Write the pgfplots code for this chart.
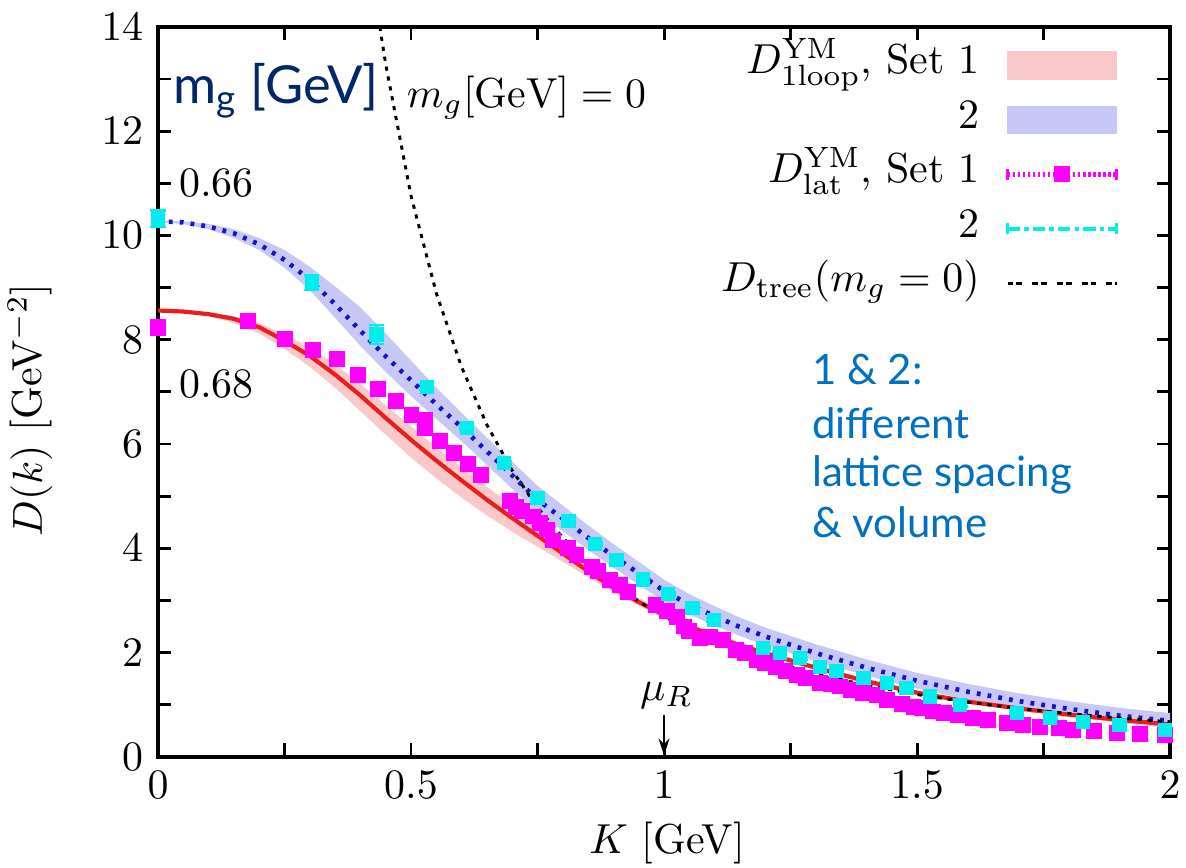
\documentclass[border=0pt]{standalone}
\usepackage{fontspec}
\usepackage{pgfplots}
\usepackage{pgfplotstable}
\pgfplotsset{compat=1.18}
\usepgfplotslibrary{fillbetween}
\usetikzlibrary{arrows.meta,calc}
\newfontfamily\gill{Lato}
\definecolor{bandA}{RGB}{250,200,200}
\definecolor{bandB}{RGB}{200,200,246}
\definecolor{lineA}{RGB}{235,30,30}
\definecolor{lineB}{RGB}{20,20,205}
\definecolor{latA}{RGB}{255,0,255}
\definecolor{latB}{RGB}{0,238,238}
\definecolor{navy}{RGB}{0,40,105}
\definecolor{txtblue}{RGB}{0,112,192}

% one-loop, set 1: curve and band
\pgfplotstableread{
K    D    up   lo
0.00 8.56 8.57 8.55
0.05 8.54 8.56 8.52
0.10 8.49 8.52 8.45
0.15 8.40 8.45 8.32
0.20 8.24 8.32 8.12
0.25 7.98 8.10 7.82
0.30 7.69 7.85 7.48
0.35 7.33 7.52 7.08
0.40 6.93 7.15 6.63
0.45 6.50 6.74 6.18
0.50 6.08 6.34 5.74
0.55 5.68 5.94 5.34
0.60 5.30 5.56 4.97
0.65 4.93 5.18 4.63
0.70 4.58 4.82 4.32
0.75 4.24 4.45 4.03
0.80 3.90 4.07 3.74
0.85 3.56 3.69 3.45
0.90 3.24 3.34 3.15
0.95 2.97 3.05 2.90
1.00 2.72 2.78 2.66
1.05 2.50 2.55 2.45
1.10 2.31 2.36 2.26
1.15 2.14 2.18 2.10
1.20 1.99 2.03 1.95
1.30 1.71 1.75 1.67
1.40 1.45 1.49 1.41
1.50 1.23 1.27 1.19
1.60 1.06 1.10 1.02
1.70 0.93 0.97 0.89
1.80 0.81 0.85 0.77
1.90 0.71 0.75 0.67
2.00 0.62 0.66 0.58
}\oneA

% one-loop, set 2: curve and band
\pgfplotstableread{
K    D     up    lo
0.00 10.27 10.29 10.25
0.05 10.25 10.27 10.22
0.10 10.17 10.22 10.12
0.15 10.04 10.12 9.95
0.20 9.83  9.95  9.72
0.25 9.53  9.72  9.38
0.30 9.15  9.40  8.95
0.35 8.68  9.02  8.42
0.40 8.17  8.62  7.88
0.45 7.68  8.12  7.38
0.50 7.22  7.60  6.92
0.55 6.76  7.08  6.48
0.60 6.32  6.60  6.05
0.65 5.86  6.12  5.60
0.70 5.40  5.66  5.14
0.75 4.93  5.20  4.68
0.80 4.57  4.82  4.33
0.85 4.20  4.44  3.97
0.90 3.85  4.08  3.63
0.95 3.52  3.74  3.30
1.00 3.18  3.40  2.98
1.05 2.92  3.12  2.73
1.10 2.70  2.89  2.52
1.15 2.49  2.67  2.32
1.20 2.31  2.48  2.14
1.30 1.99  2.16  1.83
1.40 1.71  1.87  1.56
1.50 1.46  1.61  1.31
1.60 1.25  1.40  1.10
1.70 1.07  1.22  0.93
1.80 0.92  1.07  0.78
1.90 0.79  0.94  0.65
2.00 0.69  0.84  0.55
}\oneB

% lattice, set 1
\pgfplotstableread{
K     D    e
0.000 8.23 0.14
0.177 8.35 0.06
0.251 8.02 0.05
0.307 7.81 0.03
0.354 7.63 0.05
0.396 7.32 0.03
0.435 7.06 0.03
0.470 6.82 0.03
0.501 6.55 0.04
0.527 6.47 0.03
0.528 6.30 0.03
0.557 6.05 0.03
0.585 5.83 0.03
0.613 5.61 0.03
0.639 5.41 0.03
0.696 4.90 0.03
0.708 4.80 0.03
0.720 4.71 0.03
0.741 4.61 0.03
0.755 4.49 0.03
0.768 4.36 0.03
0.781 4.15 0.03
0.811 4.00 0.03
0.827 3.88 0.03
0.857 3.65 0.03
0.870 3.56 0.03
0.893 3.40 0.03
0.913 3.30 0.03
0.929 3.16 0.03
0.985 2.92 0.03
1.005 2.79 0.03
1.025 2.69 0.03
1.040 2.50 0.03
1.050 2.42 0.03
1.071 2.27 0.03
1.090 2.30 0.03
1.117 2.24 0.03
1.143 2.05 0.03
1.160 2.00 0.03
1.183 1.86 0.03
1.200 1.80 0.03
1.222 1.73 0.03
1.240 1.65 0.03
1.262 1.57 0.03
1.280 1.52 0.03
1.308 1.41 0.03
1.330 1.40 0.03
1.348 1.35 0.03
1.370 1.28 0.03
1.394 1.22 0.03
1.420 1.18 0.03
1.440 1.09 0.03
1.470 1.02 0.03
1.493 0.96 0.03
1.510 0.94 0.03
1.532 0.87 0.03
1.553 0.84 0.03
1.580 0.80 0.03
1.611 0.75 0.03
1.640 0.71 0.03
1.678 0.65 0.03
1.710 0.62 0.03
1.743 0.58 0.03
1.780 0.55 0.03
1.809 0.52 0.03
1.850 0.50 0.03
1.895 0.46 0.03
1.940 0.44 0.03
1.990 0.42 0.03
}\latAdat

% lattice, set 2
\pgfplotstableread{
K     D     e
0.000 10.32 0.16
0.304 9.09  0.14
0.432 8.10  0.18
0.531 7.09  0.05
0.610 6.31  0.03
0.684 5.64  0.03
0.750 4.96  0.03
0.811 4.52  0.03
0.864 4.08  0.03
0.906 3.77  0.03
0.959 3.40  0.03
1.008 3.12  0.03
1.056 2.86  0.03
1.098 2.63  0.03
1.196 2.09  0.03
1.229 1.99  0.03
1.269 1.89  0.03
1.308 1.73  0.03
1.341 1.64  0.03
1.394 1.51  0.03
1.440 1.41  0.03
1.479 1.32  0.03
1.526 1.16  0.03
1.585 1.00  0.03
1.697 0.84  0.03
1.763 0.75  0.03
1.828 0.67  0.03
1.900 0.61  0.03
1.990 0.52  0.03
}\latBdat

% tree level, m_g = 0
\pgfplotstableread{
K      D
0.4383 14.00
0.45   13.28
0.50   10.76
0.55   8.893
0.60   7.472
0.65   6.367
0.70   5.490
0.75   4.782
0.80   4.203
0.85   3.723
0.90   3.321
0.95   2.981
1.00   2.690
1.10   2.223
1.20   1.868
1.30   1.592
1.40   1.372
1.50   1.196
1.60   1.051
1.70   0.931
1.80   0.830
1.90   0.745
2.00   0.6725
}\tree

\begin{document}
\begin{tikzpicture}
\begin{axis}[
    name=ax,
    scale only axis,
    width=241.5pt, height=174.2pt,
    xmin=0, xmax=2, ymin=0, ymax=14,
    xtick={0,0.5,...,2}, ytick={0,2,...,14},
    minor x tick num=1, minor y tick num=1,
    major tick length=3.2pt, minor tick length=3.2pt,
    every tick/.style={black, line width=0.7pt},
    axis line style={line width=0.9pt},
    clip=false,
    xlabel={$K$ [GeV]},
    ylabel={$D(k)$ [GeV$^{-2}$]},
    xlabel style={at={(axis description cs:0.503,-0.118)}, anchor=center},
    ylabel style={at={(axis description cs:-0.1265,0.475)}, anchor=center},
    legend cell align=right,
    legend plot pos=right,
    legend style={draw=none, fill=none, at={(rel axis cs:0.9506,0.98)},
      anchor=north east, inner sep=0pt, row sep=2pt, column sep=6pt,
      nodes={text height=7.5pt, text depth=3.5pt, inner sep=0pt}},
]
% legend entries
\addlegendimage{legend image code/.code={\fill[bandA] (0pt,-3.2pt) rectangle (26pt,3.2pt);}}
\addlegendentry{$D^{\rm YM}_{\rm 1loop}$, Set 1}
\addlegendimage{legend image code/.code={\fill[bandB] (0pt,-3.2pt) rectangle (26pt,3.2pt);}}
\addlegendentry{2}
\addlegendimage{legend image code/.code={
  \draw[latA, line width=1.3pt, dash pattern=on 0.6pt off 0.6pt] (0pt,0pt) -- (26pt,0pt);
  \draw[latA, line width=0.6pt] (0pt,-1.3pt)--(0pt,1.3pt) (26pt,-1.3pt)--(26pt,1.3pt);
  \fill[latA] (11.3pt,-1.7pt) rectangle (14.7pt,1.7pt);}}
\addlegendentry{$D^{\rm YM}_{\rm lat}$, Set 1}
\addlegendimage{legend image code/.code={
  \draw[latB, line width=1pt, dash pattern=on 3pt off 1pt on 1pt off 1pt] (0pt,0pt) -- (26pt,0pt);
  \draw[latB, line width=0.6pt] (0pt,-1.3pt)--(0pt,1.3pt) (26pt,-1.3pt)--(26pt,1.3pt);}}
\addlegendentry{2}
\addlegendimage{legend image code/.code={
  \draw[black, line width=0.7pt, dash pattern=on 1.4pt off 0.7pt on 1.4pt off 2.4pt] (0pt,0pt) -- (26pt,0pt);}}
\addlegendentry{$D_{\rm tree}(m_g=0)$}

% bands
\addplot[draw=none, name path=Aup, forget plot] table[x=K, y=up] {\oneA};
\addplot[draw=none, name path=Alo, forget plot] table[x=K, y=lo] {\oneA};
\addplot[bandA, forget plot] fill between[of=Aup and Alo];
\addplot[draw=none, name path=Bup, forget plot] table[x=K, y=up] {\oneB};
\addplot[draw=none, name path=Blo, forget plot] table[x=K, y=lo] {\oneB};
\addplot[bandB, forget plot] fill between[of=Bup and Blo];

% lattice points
\addplot[only marks, mark=square*, mark size=1.7pt, color=latA, forget plot,
  error bars/.cd, y dir=both, y explicit,
  error bar style={line width=0.6pt},
  error mark options={rotate=90, mark size=1.8pt, line width=0.6pt}]
  table[x=K, y=D, y error=e] {\latAdat};
\addplot[only marks, mark=square*, mark size=1.5pt, color=latB, forget plot,
  error bars/.cd, y dir=both, y explicit,
  error bar style={line width=0.6pt},
  error mark options={rotate=90, mark size=1.8pt, line width=0.6pt}]
  table[x=K, y=D, y error=e] {\latBdat};

% curves
\addplot[lineA, line width=1pt, forget plot] table[x=K, y=D] {\oneA};
\addplot[lineB, line width=1.1pt, dash pattern=on 0.9pt off 1.7pt, forget plot] table[x=K, y=D] {\oneB};
\addplot[black, line width=0.7pt, dash pattern=on 1pt off 1.4pt, forget plot] table[x=K, y=D] {\tree};

% annotations
\begin{scope}[every node/.style={inner sep=0pt, anchor=base west}]
\node[text=navy, font=\gill\fontsize{12.5}{14}\selectfont] at (axis cs:0.028,12.53) {m\textsubscript{g} [GeV]};
\node at (axis cs:0.49,12.46) {$m_g[\mathrm{GeV}]=0$};
\node at (axis cs:0.04,10.75) {0.66};
\node at (axis cs:0.04,6.89) {0.68};
\node[text=txtblue, font=\gill\fontsize{10}{12}\selectfont] at (axis cs:1.291,7.14) {1 \& 2:};
\node[text=txtblue, font=\gill\fontsize{10}{12}\selectfont] at (axis cs:1.291,6.10) {different};
\node[text=txtblue, font=\gill\fontsize{10}{12}\selectfont] at (axis cs:1.291,5.18) {lattice spacing};
\node[text=txtblue, font=\gill\fontsize{10}{12}\selectfont] at (axis cs:1.291,4.20) {\& volume};
\end{scope}
\node[anchor=base, inner sep=0pt] at (axis cs:1.005,1.09) {$\mu_R$};
\draw[-{Stealth[length=4pt,width=2.6pt]}, line width=0.6pt] (axis cs:1,0.8) -- (axis cs:1,0.03);
\end{axis}
\pgfresetboundingbox
\path ($(ax.south west)+(-37.7pt,-26.3pt)$) rectangle ($(ax.north east)+(3.8pt,6.4pt)$);
\end{tikzpicture}
\end{document}
